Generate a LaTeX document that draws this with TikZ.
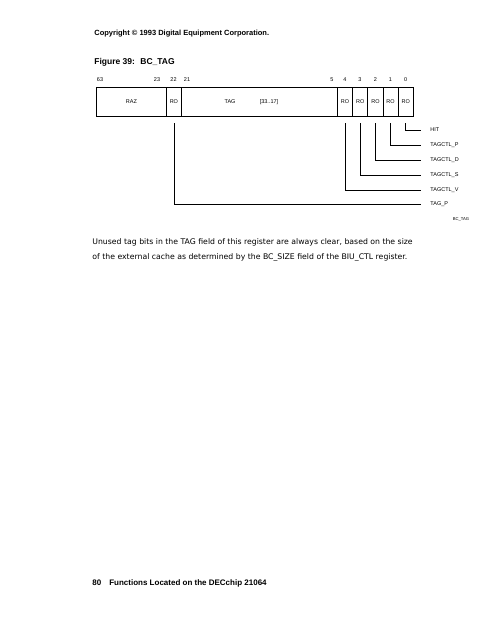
\documentclass[tikz,border=0pt]{standalone}
\usepackage{fontspec}
\setmainfont{Liberation Sans}
\newfontfamily\bodyfont{DejaVu Sans}
\begin{document}
\begin{tikzpicture}[x=1pt,y=-1pt, line width=0.8pt,
  cell/.style={draw, minimum height=29pt, inner sep=0, anchor=north west, font=\fontsize{5.5}{6}\selectfont},
  bitnum/.style={font=\fontsize{5.5}{6}\selectfont, inner sep=0},
  lbl/.style={font=\fontsize{5.5}{6}\selectfont, anchor=west, inner sep=0},
  hdr/.style={anchor=west, inner sep=0},
  leader/.style={draw, line width=0.8pt}]
\useasboundingbox (0,0) rectangle (495,640);

% header texts
\node[hdr, font=\bfseries\fontsize{7.5}{9}\selectfont] (copy) at (94,34) {Copyright \textcopyright{} 1993 Digital Equipment Corporation.};
\node[hdr, font=\bfseries\fontsize{8.5}{10}\selectfont] (fig) at (94,62) {Figure 39:};
\node[hdr, font=\bfseries\fontsize{8.5}{10}\selectfont] (figname) at (140,62) {BC\_TAG};

% register cells
\node[cell, minimum width=70pt] (raz) at (96,87) {RAZ};
\node[cell, minimum width=15pt] (ro22) at (166,87) {RO};
\node[cell, minimum width=156pt] (tag) at (181,87) {};
\node[cell, minimum width=15.2pt] (b4) at (337,87) {RO};
\node[cell, minimum width=15.2pt] (b3) at (352.2,87) {RO};
\node[cell, minimum width=15.2pt] (b2) at (367.4,87) {RO};
\node[cell, minimum width=15.2pt] (b1) at (382.6,87) {RO};
\node[cell, minimum width=15.2pt] (b0) at (397.8,87) {RO};
\node[bitnum] (tagname) at (230,102) {TAG};
\node[bitnum] (tagrange) at (269,102) {[33..17]};

% bit numbers
\node[bitnum] (n63) at (100,80) {63};
\node[bitnum] (n23) at (157,80) {23};
\node[bitnum] (n22) at (173.5,80) {22};
\node[bitnum] (n21) at (187,80) {21};
\node[bitnum] (n5) at (332,80) {5};
\node[bitnum] (n4) at (345,80) {4};
\node[bitnum] (n3) at (360,80) {3};
\node[bitnum] (n2) at (375.5,80) {2};
\node[bitnum] (n1) at (390.5,80) {1};
\node[bitnum] (n0) at (405.7,80) {0};

% field labels
\node[lbl] (hit) at (430,130) {HIT};
\node[lbl] (tp) at (430,145.5) {TAGCTL\_P};
\node[lbl] (td) at (430,160.5) {TAGCTL\_D};
\node[lbl] (ts) at (430,175.5) {TAGCTL\_S};
\node[lbl] (tv) at (430,190) {TAGCTL\_V};
\node[lbl] (tagp) at (430,204.5) {TAG\_P};
\node[font=\fontsize{4.2}{5}\selectfont, inner sep=0] (ref) at (461,219) {BC\_TAG};

% leaders
\draw[leader] ([yshift=-6.5pt]b0.south) |- ([xshift=-9pt]hit.west);
\draw[leader] ([yshift=-6.5pt]b1.south) |- ([xshift=-9pt]tp.west);
\draw[leader] ([yshift=-6.5pt]b2.south) |- ([xshift=-9pt]td.west);
\draw[leader] ([yshift=-6.5pt]b3.south) |- ([xshift=-9pt]ts.west);
\draw[leader] ([yshift=-6.5pt]b4.south) |- ([xshift=-9pt]tv.west);
\draw[leader] ([yshift=-6.5pt]ro22.south) |- ([xshift=-9pt]tagp.west);

% body text
\node[hdr, font=\bodyfont\fontsize{7.75}{9}\selectfont] (body1) at (92,242) {Unused tag bits in the TAG field of this register are always clear, based on the size};
\node[hdr, font=\bodyfont\fontsize{7.75}{9}\selectfont] (body2) at (92,257.5) {of the external cache as determined by the BC\_SIZE field of the BIU\_CTL register.};

% footer
\node[hdr, font=\bfseries\fontsize{8}{10}\selectfont] (foot) at (92,583) {80\hspace{1em}Functions Located on the DECchip 21064};
\end{tikzpicture}
\end{document}
